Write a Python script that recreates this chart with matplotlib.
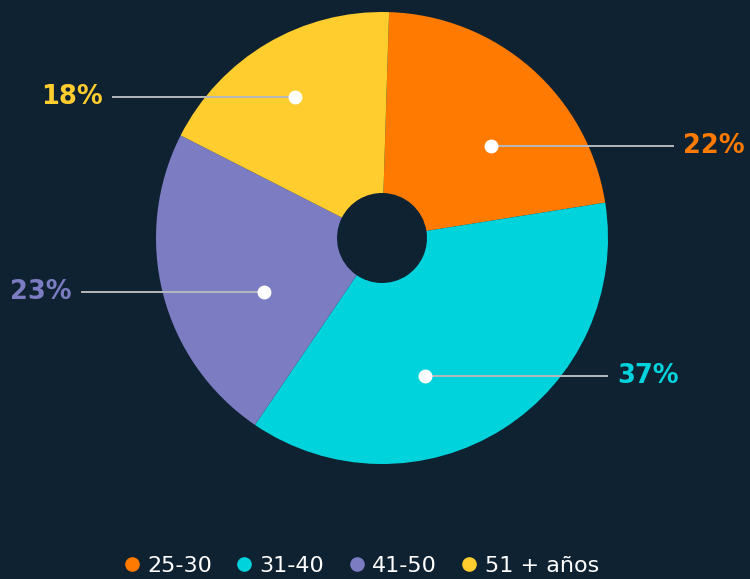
import numpy as np
import matplotlib
matplotlib.use('Agg')
import matplotlib.pyplot as plt
from matplotlib.lines import Line2D

# data
groups = ['25-30', '31-40', '41-50', '51 + años']
shares = [22, 37, 23, 18]
colors = ['#FF7A00', '#00D3DB', '#7B7CC2', '#FFCD2E']

# where each white dot sits inside its slice (fraction of the arc, radius in px)
dot_frac = [0.606, 0.613, 0.377, 0.483]
dot_rad = [143, 144.5, 130, 166]

bg = '#0F2232'
W, H = 750, 579
cx, cy = 382, H - 238
R, hole = 226, 45
start = 88.2
line_len = 182

fig = plt.figure(figsize=(W / 100, H / 100), dpi=100)
fig.patch.set_facecolor(bg)
ax = fig.add_axes([0, 0, 1, 1])
ax.set_facecolor(bg)

ax.pie(shares, colors=colors, startangle=start, counterclock=False,
       center=(cx, cy), radius=R, frame=True,
       wedgeprops=dict(width=R - hole, linewidth=0))
ax.set_xlim(0, W)
ax.set_ylim(0, H)
ax.set_aspect('equal')
ax.axis('off')

# labels with leader lines
a0 = start
for share, col, fr, rr in zip(shares, colors, dot_frac, dot_rad):
    sweep = share / 100 * 360
    ang = np.radians(a0 - fr * sweep)
    a0 -= sweep
    dx = cx + rr * np.cos(ang)
    dy = cy + rr * np.sin(ang)
    side = 1 if np.cos(ang) > 0 else -1
    ex = dx + side * line_len
    ax.plot([dx, ex], [dy, dy], color='#B5B8BC', lw=1.4, zorder=3)
    ax.plot(dx, dy, 'o', color='white', ms=9, zorder=4)
    ax.text(ex + side * 10, dy, '%d%%' % share, color=col,
            fontsize=18.5, fontweight='bold',
            ha='left' if side > 0 else 'right', va='center')

handles = [Line2D([], [], marker='o', ls='', color=c, ms=9.5) for c in colors]
leg = ax.legend(handles, groups, loc='center', bbox_to_anchor=(362 / W, 1 - 566 / H),
                ncol=4, frameon=False, fontsize=16, labelcolor='white',
                handlelength=0.6, handletextpad=0.4, columnspacing=1.15,
                borderaxespad=0, borderpad=0)

fig.savefig('out.png', dpi=100, facecolor=bg)
